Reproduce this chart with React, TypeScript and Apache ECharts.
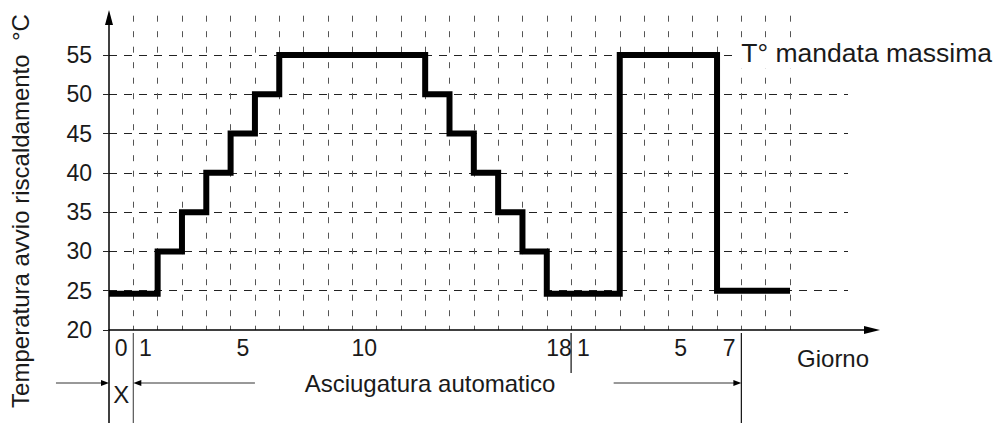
import React, { useEffect, useRef } from "react";
import * as echarts from "echarts";

// ---- data ----
const xTickLabels = [
  "0", "1", "", "", "", "5", "", "", "", "", "10", "", "", "", "", "", "", "", "18",
  "1", "", "", "", "5", "", "7", "", "",
];
const slotCount = 28;
const yMin = 20;
const yMax = 60;
const yStep = 5;
// start slot of each constant-temperature step (last entry closes the line)
const stepStartSlot = [0, 2, 3, 4, 5, 6, 7, 13, 14, 15, 16, 17, 18, 21, 25, 28];
const stepTemp = [24.6, 30, 35, 40, 45, 50, 55, 50, 45, 40, 35, 30, 24.6, 55, 25, 25];
const maxLabel = "T° mandata massima";
const yTitle = "Temperatura avvio riscaldamento  °C";
const xTitle = "Giorno";
const phaseLabel = "Asciugatura automatico";
const xLabel = "X";

// ---- layout ----
const FONT = "Liberation Sans, Arial, sans-serif";
const GRID_LEFT = 109;
const GRID_TOP = 15.7;
const GRID_HEIGHT = 314.3;
const DATA_WIDTH = 681;
const HGRID_WIDTH = 739;
const XAXIS_WIDTH = 763;
const ANN_BOTTOM = 423;
const ANN_ARROW_Y = 383;
const annotationArrows = [
  { from: -2.18, to: 0 },
  { from: 6, to: 1 },
  { from: 20.75, to: 26 },
];
const separators = [
  { slot: 1, top: 333, bottom: 423, color: "#555" },
  { slot: 19, top: 333, bottom: 373, color: "#111" },
  { slot: 26, top: 333, bottom: 423, color: "#111" },
];

export default function App() {
  const ref = useRef<HTMLDivElement>(null);

  useEffect(() => {
    document.body.style.margin = "0";
    if (!ref.current) return;
    const chart = echarts.init(ref.current, null, { renderer: "svg" });

    const lineData = stepStartSlot.map((s, i) => [s, stepTemp[i]]);

    const gridBase = { left: GRID_LEFT, top: GRID_TOP, height: GRID_HEIGHT };

    chart.setOption({
      animation: false,
      textStyle: { fontFamily: FONT },
      grid: [
        { ...gridBase, width: DATA_WIDTH },
        { ...gridBase, width: HGRID_WIDTH },
        { ...gridBase, width: XAXIS_WIDTH },
      ],
      xAxis: [
        {
          gridIndex: 0,
          type: "value",
          min: 0,
          max: slotCount,
          interval: 1,
          axisLine: { show: false },
          axisTick: { show: false },
          axisLabel: { show: false },
          splitLine: {
            show: true,
            showMinLine: false,
            lineStyle: { color: "#555", width: 1, type: [6, 9.5] },
          },
        },
        {
          gridIndex: 0,
          type: "category",
          position: "bottom",
          data: xTickLabels,
          boundaryGap: true,
          axisLine: { show: false },
          axisTick: { show: false },
          splitLine: { show: false },
          axisLabel: {
            interval: 0,
            margin: 6.5,
            fontSize: 23,
            color: "#1a1a1a",
            fontFamily: FONT,
          },
        },
        {
          gridIndex: 1,
          type: "value",
          min: 0,
          max: 30,
          show: false,
        },
        {
          gridIndex: 2,
          type: "value",
          min: 0,
          max: 30,
          axisLine: {
            show: true,
            symbol: ["none", "triangle"],
            symbolSize: [8, 16],
            lineStyle: { color: "#000", width: 1.5 },
          },
          axisTick: { show: false },
          axisLabel: { show: false },
          splitLine: { show: false },
        },
      ],
      yAxis: [
        {
          gridIndex: 0,
          type: "value",
          min: yMin,
          max: yMax,
          interval: yStep,
          show: false,
        },
        {
          gridIndex: 1,
          type: "value",
          min: yMin,
          max: yMax,
          interval: yStep,
          axisLine: {
            show: true,
            symbol: ["none", "triangle"],
            symbolSize: [8, 15],
            symbolOffset: [0, -1.8],
            lineStyle: { color: "#000", width: 1.5 },
          },
          axisTick: { show: true, length: 6, lineStyle: { color: "#222" } },
          axisLabel: {
            showMaxLabel: false,
            margin: 17,
            fontSize: 23,
            color: "#1a1a1a",
            fontFamily: FONT,
          },
          splitLine: {
            show: true,
            showMinLine: false,
            showMaxLine: false,
            lineStyle: { color: "#222", width: 1, type: [8, 7] },
          },
        },
        {
          gridIndex: 2,
          type: "value",
          min: yMin,
          max: yMax,
          show: false,
        },
      ],
      series: [
        {
          type: "line",
          xAxisIndex: 0,
          yAxisIndex: 0,
          step: "end",
          data: lineData,
          symbol: "none",
          z: 5,
          lineStyle: { color: "#000", width: 6, cap: "butt", join: "miter" },
        },
      ],
    });

    const px = (s: number) => chart.convertToPixel({ xAxisIndex: 0 }, s) as number;
    const py = (v: number) => chart.convertToPixel({ yAxisIndex: 0 }, v) as number;

    const elements: any[] = [];
    // y axis continuation below the x axis
    elements.push({
      type: "line",
      shape: { x1: px(0), y1: py(yMin), x2: px(0), y2: ANN_BOTTOM },
      style: { stroke: "#000", lineWidth: 1.5 },
    });
    separators.forEach((s) => {
      elements.push({
        type: "line",
        shape: { x1: px(s.slot), y1: s.top, x2: px(s.slot), y2: s.bottom },
        style: { stroke: s.color, lineWidth: 1.2 },
      });
    });
    annotationArrows.forEach((a) => {
      const x1 = px(a.from);
      const x2 = px(a.to);
      const dir = x2 > x1 ? 1 : -1;
      elements.push({
        type: "line",
        shape: { x1, y1: ANN_ARROW_Y, x2: x2 - dir * 4, y2: ANN_ARROW_Y },
        style: { stroke: "#333", lineWidth: 1 },
      });
      elements.push({
        type: "polygon",
        shape: {
          points: [
            [x2, ANN_ARROW_Y],
            [x2 - dir * 8, ANN_ARROW_Y - 3],
            [x2 - dir * 8, ANN_ARROW_Y + 3],
          ],
        },
        style: { fill: "#000" },
      });
    });
    const txt = (text: string, x: number, y: number, size: number, align = "center", extra: any = {}) => ({
      type: "text",
      x,
      y,
      z: 20,
      ...extra,
      style: {
        text,
        fontSize: size,
        fontFamily: FONT,
        fill: "#1a1a1a",
        align,
        verticalAlign: "middle",
      },
    });
    elements.push(txt(xLabel, px(0.5), 394, 24));
    elements.push(txt(phaseLabel, px(13.2), ANN_ARROW_Y, 24));
    elements.push(txt(xTitle, px(29.77), 358, 24));
    // white backing behind the max-temperature label
    elements.push({
      type: "rect",
      z: 15,
      shape: { x: px(26) - 5, y: py(55) - 13, width: 995 - px(26) + 5, height: 26 },
      style: { fill: "#fff" },
    });
    elements.push(txt(maxLabel, px(26), py(55) - 2, 26.5, "left"));
    elements.push(txt(yTitle, 20, 211, 24, "center", { rotation: Math.PI / 2 }));

    chart.setOption({ graphic: { elements } });

    return () => chart.dispose();
  }, []);

  return <div ref={ref} style={{ width: 995, height: 425 }} />;
}
